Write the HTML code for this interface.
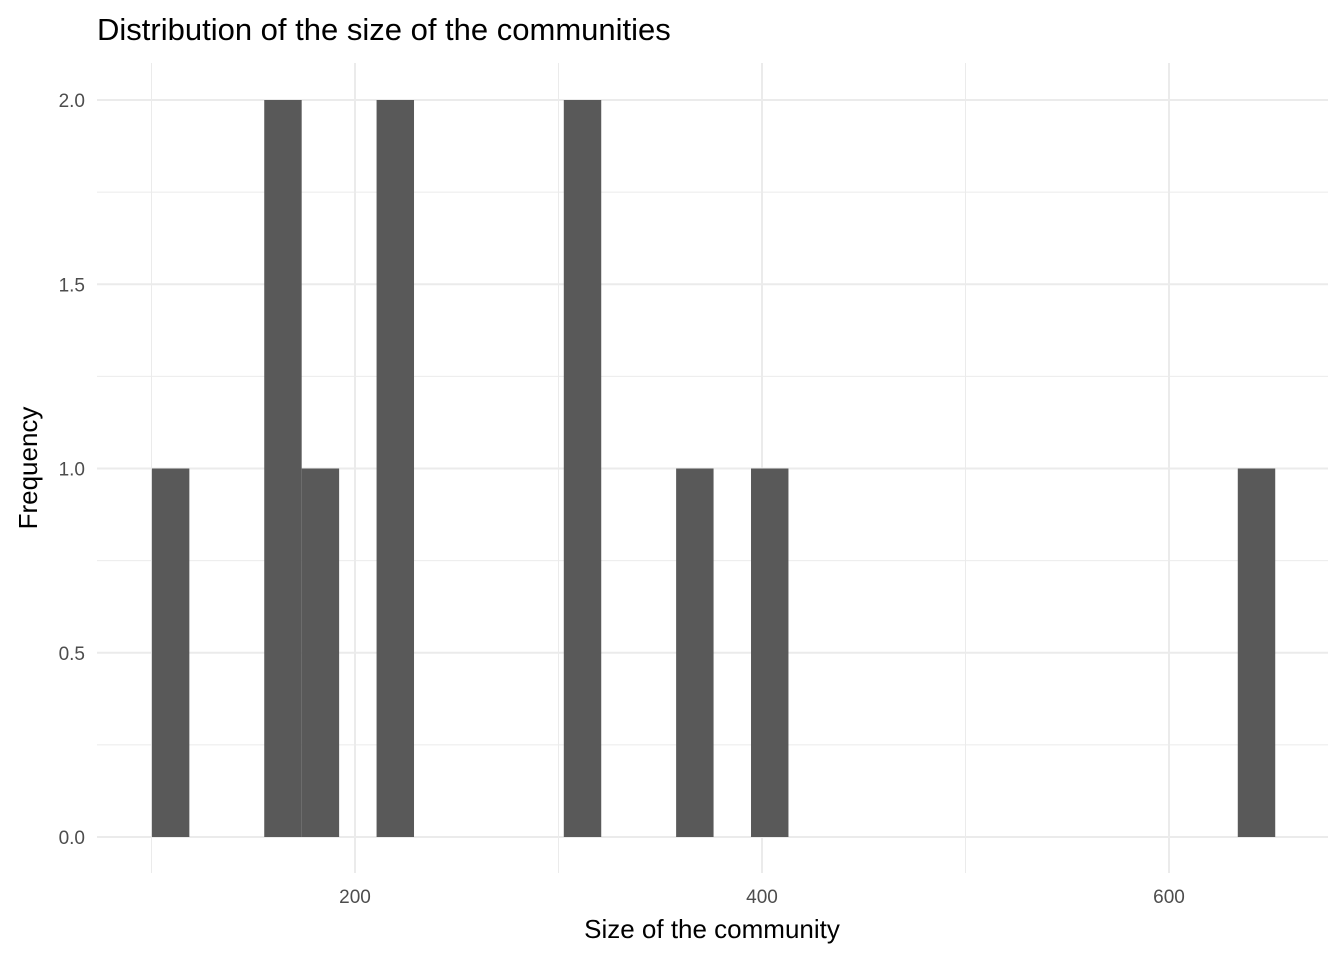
<!DOCTYPE html>
<html><head><meta charset="utf-8"><style>
body{margin:0;background:#fff;width:1344px;height:960px;overflow:hidden}
svg text{font-family:"Liberation Sans",sans-serif}
</style></head><body>
<svg id="chart" width="1344" height="960" xmlns="http://www.w3.org/2000/svg">
<text x="97" y="40" font-size="31" fill="#000">Distribution of the size of the communities</text>
<text x="712" y="938" font-size="26" text-anchor="middle" fill="#000">Size of the community</text>
<text transform="translate(37,468) rotate(-90)" font-size="26" text-anchor="middle" fill="#000">Frequency</text>
<g id="grid"></g><g id="bars"></g><g id="ticks"></g>
</svg>
<script>
const binStarts=[100.2,155.4,173.8,210.6,302.6,357.8,394.6,633.8];
const counts=[1,2,1,2,2,1,1,1];
const binWidth=18.4;
const xMajor=[200,400,600];
const xMinor=[100,300,500];
const yMajor=[0,0.5,1,1.5,2];
const yLabels=["0.0","0.5","1.0","1.5","2.0"];
const yMinor=[0.25,0.75,1.25,1.75];
const sx=v=>355+(v-200)*2.035;
const sy=v=>837-v*368.5;
const NS="http://www.w3.org/2000/svg";
const grid=document.getElementById('grid'),bars=document.getElementById('bars'),ticks=document.getElementById('ticks');
function mk(tag,attrs,parent){const e=document.createElementNS(NS,tag);for(const k in attrs)e.setAttribute(k,attrs[k]);parent.appendChild(e);return e;}
const L=97,R=1328,T=63,B=873;
xMinor.forEach(v=>{const l=mk('line',{x1:sx(v),x2:sx(v),y1:T,y2:B,stroke:'#ebebeb','stroke-width':1},grid);

});
yMinor.forEach(v=>{const l=mk('line',{x1:L,x2:R,y1:sy(v),y2:sy(v),stroke:'#ebebeb','stroke-width':1},grid);

});
xMajor.forEach(v=>{const l=mk('line',{x1:sx(v),x2:sx(v),y1:T,y2:B,stroke:'#ebebeb','stroke-width':2},grid);


const t=mk('text',{x:sx(v),y:903,'font-size':19,'text-anchor':'middle',fill:'#4d4d4d'},ticks);t.textContent=v;

});
yMajor.forEach((v,i)=>{const l=mk('line',{x1:L,x2:R,y1:sy(v),y2:sy(v),stroke:'#ebebeb','stroke-width':2},grid);


const t=mk('text',{x:85,y:sy(v)+7,'font-size':19,'text-anchor':'end',fill:'#4d4d4d'},ticks);t.textContent=yLabels[i];

});
binStarts.forEach((s,i)=>{const x0=sx(s),x1=sx(s+binWidth);
const r=mk('rect',{x:x0,y:sy(counts[i]),width:x1-x0,height:sy(0)-sy(counts[i]),fill:'#595959'},bars);

});
</script>
</body></html>
